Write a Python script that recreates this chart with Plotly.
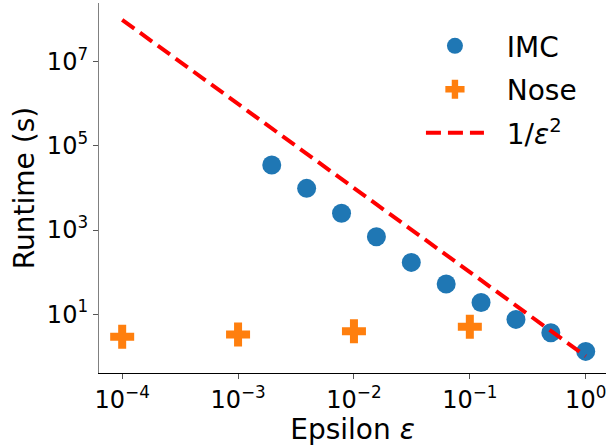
import plotly.graph_objects as go

# Data
imc_eps = [1/512, 1/256, 1/128, 1/64, 1/32, 1/16, 1/8, 1/4, 1/2, 1]
imc_runtime = [35300, 9800, 2500, 690, 170, 52, 19, 7.5, 3.6, 1.3]
nose_eps = [1e-4, 1e-3, 1e-2, 1e-1]
nose_runtime = [2.9, 3.3, 3.9, 5.0]
ref_eps = [1e-4, 1.0]
ref_runtime = [1e8, 1.0]

xtick_vals = [1e-4, 1e-3, 1e-2, 1e-1, 1]
xtick_text = ["10<sup>−4</sup>", "10<sup>−3</sup>", "10<sup>−2</sup>", "10<sup>−1</sup>", "10<sup>0</sup>"]
ytick_vals = [1e1, 1e3, 1e5, 1e7]
ytick_text = ["10<sup>1</sup>", "10<sup>3</sup>", "10<sup>5</sup>", "10<sup>7</sup>"]

FONT = "DejaVu Sans"
PAD = "\u00a0\u00a0"

fig = go.Figure()
fig.add_trace(go.Scatter(
    x=imc_eps, y=imc_runtime, mode="markers", name=PAD + "IMC",
    marker=dict(color="#1f77b4", size=19, symbol="circle"),
    legendgroup="a",
))
fig.add_trace(go.Scatter(
    x=nose_eps, y=nose_runtime, mode="markers", name=PAD + "Nose",
    marker=dict(color="#ff7f0e", size=20, symbol="cross"),
    legendgroup="b",
))
fig.add_trace(go.Scatter(
    x=ref_eps, y=ref_runtime, mode="lines", name=PAD + "1/<i>ε</i><sup>2</sup>",
    line=dict(color="#ff0000", width=4, dash="15px,7px"),
    legendgroup="c",
))

fig.update_layout(
    width=606, height=446,
    margin=dict(l=99, r=0, t=3, b=73),
    paper_bgcolor="white", plot_bgcolor="white",
    font=dict(family=FONT, color="black"),
    showlegend=True,
    legend=dict(
        x=0.635, y=0.951, xanchor="left", yanchor="top",
        font=dict(size=28, family=FONT),
        itemwidth=58, tracegroupgap=4,
        bgcolor="rgba(0,0,0,0)",
        traceorder="grouped",
    ),
    xaxis=dict(
        type="log", range=[-4.2, 0.175], automargin=False,
        tickvals=xtick_vals, ticktext=xtick_text, ticklabeloverflow="allow",
        ticks="outside", ticklen=5, tickcolor="#555555", tickwidth=1,
        tickfont=dict(size=24, family=FONT),
        showgrid=False, zeroline=False,
        showline=True, linecolor="black", linewidth=1.2,
        title=dict(text="Epsilon <i>ε</i>", font=dict(size=28, family=FONT), standoff=2),
    ),
    yaxis=dict(
        type="log", range=[-0.4, 8.4], automargin=False,
        tickvals=ytick_vals, ticktext=ytick_text,
        ticks="outside", ticklen=5, tickcolor="#555555", tickwidth=1,
        tickfont=dict(size=24, family=FONT),
        showgrid=False, zeroline=False,
        showline=True, linecolor="#808080", linewidth=1.2,
        title=dict(text="Runtime (s)", font=dict(size=28, family=FONT), standoff=4),
    ),
)

fig.write_html(
    "out.html",
    config={"displayModeBar": False},
    post_script="document.body.style.margin='0';document.body.style.overflow='hidden';",
)
